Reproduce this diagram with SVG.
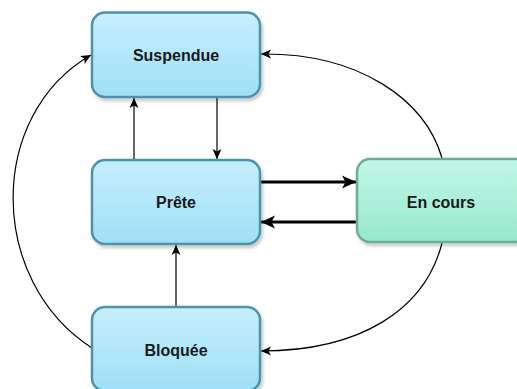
<svg xmlns="http://www.w3.org/2000/svg" width="517" height="389" viewBox="0 0 517 389">
<defs>
<linearGradient id="gBlue" x1="0" y1="0" x2="0" y2="1">
<stop offset="0" stop-color="#c6effd"/>
<stop offset="1" stop-color="#9fdff6"/>
</linearGradient>
<linearGradient id="gGreen" x1="0" y1="0" x2="0" y2="1">
<stop offset="0" stop-color="#c2f7e7"/>
<stop offset="1" stop-color="#95e8cd"/>
</linearGradient>
<filter id="sh" x="-10%" y="-10%" width="130%" height="130%">
<feDropShadow dx="2" dy="3" stdDeviation="1.5" flood-color="#000" flood-opacity="0.2"/>
</filter>
<marker id="aS" markerUnits="userSpaceOnUse" markerWidth="12" markerHeight="12" viewBox="0 0 12 12" refX="11" refY="6" orient="auto">
<path d="M1,1.5 L11,6 L1,10.5 L3.5,6 Z" fill="#000"/>
</marker>
<marker id="aL" markerUnits="userSpaceOnUse" markerWidth="16" markerHeight="16" viewBox="0 0 16 16" refX="15" refY="8" orient="auto">
<path d="M1,1.5 L15,8 L1,14.5 L4.5,8 Z" fill="#000"/>
</marker>
<style>
.blue{fill:url(#gBlue);stroke:#4b93ad;stroke-width:2.5;filter:url(#sh)}
.green{fill:url(#gGreen);stroke:#6aae97;stroke-width:2.5;filter:url(#sh)}
.lbl{font-family:"Liberation Sans",Arial,sans-serif;font-weight:bold;font-size:16px;fill:#1a1a1a;text-anchor:middle;dominant-baseline:central}
.thin{fill:none;stroke:#000;stroke-width:1.2;marker-end:url(#aS)}
.thick{fill:none;stroke:#000;stroke-width:3;marker-end:url(#aL)}
</style>
</defs>
<g id="connectors">
<path class="thin" d="M134,160 L134,98"/>
<path class="thin" d="M217,97 L217,159"/>
<path class="thin" d="M176,307 L176,245"/>
<path class="thick" d="M260,182 L356,182"/>
<path class="thick" d="M357,222 L261,222"/>
<path class="thin" d="M92,348 C-13,280 -13,115 91,55"/>
<path class="thin" d="M442,158 C425,100 360,53 261,54"/>
<path class="thin" d="M442,243 C425,310 360,351 261,351"/>
</g>
<g id="suspendue">
<rect class="blue" x="92" y="12.5" width="168" height="84.5" rx="13"/>
<text class="lbl" x="176" y="55">Suspendue</text>
</g>
<g id="prete">
<rect class="blue" x="92" y="160" width="168" height="84" rx="13"/>
<text class="lbl" x="176" y="202">Prête</text>
</g>
<g id="bloquee">
<rect class="blue" x="92" y="307" width="168" height="84" rx="13"/>
<text class="lbl" x="176" y="350">Bloquée</text>
</g>
<g id="encours">
<rect class="green" x="357" y="159" width="172" height="83" rx="13"/>
<text class="lbl" x="441" y="202">En cours</text>
</g>
</svg>
